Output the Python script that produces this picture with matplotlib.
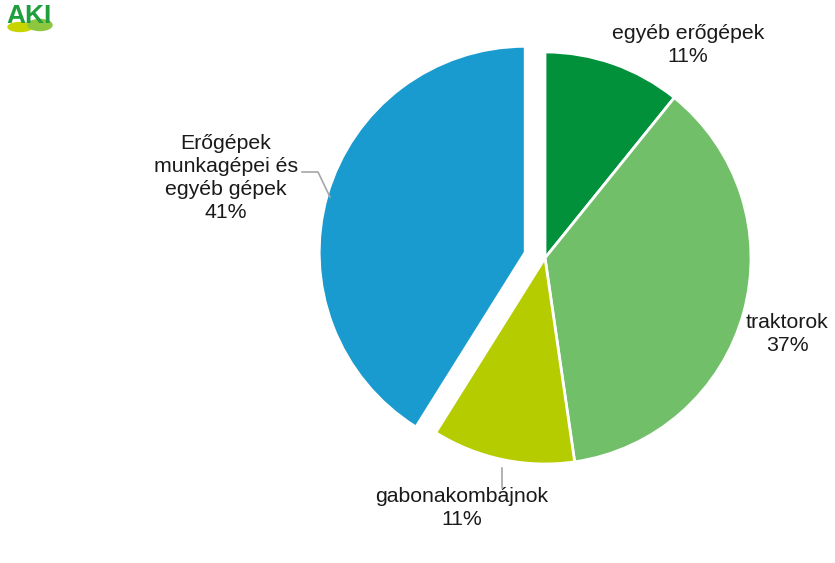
import matplotlib
matplotlib.use("Agg")
import matplotlib.pyplot as plt
from matplotlib.patches import Ellipse

plt.rcParams['font.family'] = ['Liberation Sans', 'DejaVu Sans']

categories = ["egyéb erőgépek", "traktorok", "gabonakombájnok", "Erőgépek\nmunkagépei és\negyéb gépek"]
values = [10.8, 36.9, 11.2, 41.1]
colors = ["#00913A", "#72BF6A", "#B5CC00", "#1A9BCF"]

fig = plt.figure(figsize=(8.35, 5.63), dpi=100)
ax = fig.add_axes([0, 0, 1, 1])

cx, cy, r = 545, 563 - 258, 206
explode = [0, 0, 0, 0.1 * r]
ax.pie(values, colors=colors, explode=explode, startangle=90, counterclock=False,
       center=(cx, cy), radius=r, frame=True,
       wedgeprops=dict(edgecolor='white', linewidth=2))
ax.set_xlim(0, 835)
ax.set_ylim(0, 563)
ax.set_aspect('equal')
ax.axis('off')

total = sum(values)
pcts = [f"{round(v / total * 100):d}%" for v in values]
label_pos = [(688, 563 - 45), (787, 563 - 334), (462, 563 - 508), (226, 563 - 178)]
for lab, p, (x, y) in zip(categories, pcts, label_pos):
    ax.text(x, y, f"{lab}\n{p}", ha='center', va='center', fontsize=15.3,
            color='#1a1a1a', linespacing=1.25)

# leader lines
ax.plot([302, 318, 330], [563 - 172, 563 - 172, 563 - 197], color='#a6a6a6', lw=1.2)
ax.plot([502, 502], [563 - 468, 563 - 488], color='#a6a6a6', lw=1.2)

# logo
ax.add_patch(Ellipse((20, 563 - 27), 24, 9, color='#C8D400'))
ax.add_patch(Ellipse((40, 563 - 25), 24, 11, color='#8DC63F'))
ax.text(29, 563 - 16, "AKI", fontsize=19, fontweight='bold', color='#1E9E3C',
        ha='center', va='center')

fig.savefig("out.png", dpi=100)
